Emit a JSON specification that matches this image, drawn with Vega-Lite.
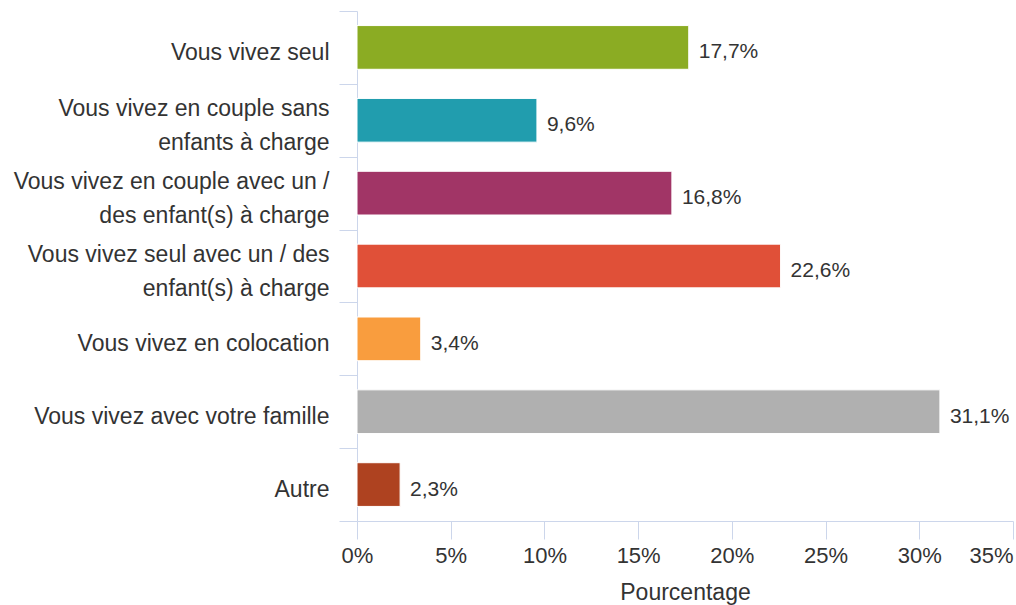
{
  "$schema": "https://vega.github.io/schema/vega-lite/v6.json",
  "autosize": "none",
  "width": 656,
  "height": 510,
  "padding": {"left": 357, "top": 11, "right": 3, "bottom": 84},
  "background": "white",
  "config": {
    "locale": {"number": {"decimal": ",", "thousands": " ", "grouping": [3], "currency": ["", " €"]}},
    "view": {"stroke": null},
    "font": "Liberation Sans",
    "axis": {"grid": false, "domainColor": "#ccd6eb", "tickColor": "#ccd6eb", "domainWidth": 1, "tickWidth": 1, "labelFont": "Liberation Sans", "titleFont": "Liberation Sans", "labelColor": "#333333", "titleColor": "#333333"}
  },
  "data": {
    "values": [
      {"categorie": "Vous vivez seul", "part": 0.177},
      {"categorie": "Vous vivez en couple sans enfants à charge", "part": 0.096},
      {"categorie": "Vous vivez en couple avec un / des enfant(s) à charge", "part": 0.168},
      {"categorie": "Vous vivez seul avec un / des enfant(s) à charge", "part": 0.226},
      {"categorie": "Vous vivez en colocation", "part": 0.034},
      {"categorie": "Vous vivez avec votre famille", "part": 0.311},
      {"categorie": "Autre", "part": 0.023}
    ]
  },
  "encoding": {
    "y": {
      "field": "categorie",
      "type": "nominal",
      "sort": null,
      "scale": {"paddingInner": 0, "paddingOuter": 0},
      "axis": {
        "title": null,
        "tickBand": "extent",
        "tickSize": 18,
        "labelPadding": 10,
        "labelFontSize": 23,
        "labelLineHeight": 34,
        "labelOffset": 5,
        "labelBaseline": {"condition": {"test": "isValid(datum) && indexof('' + datum.value, 'charge') >= 0", "value": "line-bottom"}, "value": "middle"},
        "labelLimit": 400,
        "labelExpr": "datum.label == 'Vous vivez en couple sans enfants à charge' ? ['Vous vivez en couple sans', 'enfants à charge'] : datum.label == 'Vous vivez en couple avec un / des enfant(s) à charge' ? ['Vous vivez en couple avec un /', 'des enfant(s) à charge'] : datum.label == 'Vous vivez seul avec un / des enfant(s) à charge' ? ['Vous vivez seul avec un / des', 'enfant(s) à charge'] : datum.label"
      }
    },
    "x": {
      "field": "part",
      "type": "quantitative",
      "scale": {"domain": [0, 0.35], "nice": false},
      "axis": {
        "title": "Pourcentage",
        "format": ".0%",
        "values": [0, 0.05, 0.1, 0.15, 0.2, 0.25, 0.3, 0.35],
        "tickSize": 18,
        "labelPadding": 6,
        "labelFontSize": 22,
        "labelFlush": false,
        "labelAlign": {"expr": "datum.value >= 0.349 ? 'right' : 'center'"},
        "titleFontSize": 23,
        "titleFontWeight": "normal",
        "titlePadding": 15
      }
    }
  },
  "layer": [
    {
      "mark": {"type": "bar", "stroke": "#ffffff", "strokeWidth": 1, "height": {"band": 0.6}},
      "encoding": {
        "color": {
          "field": "categorie",
          "type": "nominal",
          "sort": null,
          "legend": null,
          "scale": {
            "domain": ["Vous vivez seul", "Vous vivez en couple sans enfants à charge", "Vous vivez en couple avec un / des enfant(s) à charge", "Vous vivez seul avec un / des enfant(s) à charge", "Vous vivez en colocation", "Vous vivez avec votre famille", "Autre"],
            "range": ["#8bac23", "#219dae", "#a13566", "#e05038", "#f99d3e", "#b0b0b0", "#ae4220"]
          }
        }
      }
    },
    {
      "mark": {"type": "text", "align": "left", "baseline": "middle", "dx": 10, "dy": 5, "fontSize": 21, "color": "#333333"},
      "encoding": {
        "text": {"field": "part", "type": "quantitative", "format": ".1%"}
      }
    }
  ]
}
